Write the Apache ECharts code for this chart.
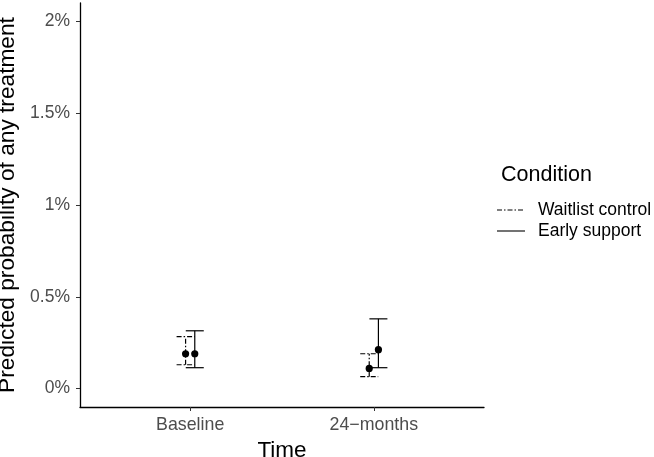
<!DOCTYPE html>
<html><head><meta charset="utf-8">
<script src="https://cdn.jsdelivr.net/npm/echarts@6/dist/echarts.min.js"></script>
<style>html,body{margin:0;padding:0;background:#fff}#c{width:654px;height:457px}</style>
</head><body><div id="c"></div>
<script>
const categories = ['Baseline', '24\u2212months'];
const conditions = ['Waitlist control', 'Early support'];
const waitlistEst = [0.19, 0.11];
const waitlistLow = [0.13, 0.065];
const waitlistHigh = [0.283, 0.19];
const earlyEst = [0.19, 0.212];
const earlyLow = [0.114, 0.114];
const earlyHigh = [0.315, 0.38];
const yTicks = [0, 0.5, 1, 1.5, 2];
const yTickLabels = ['0%', '0.5%', '1%', '1.5%', '2%'];

const DODGE = 0.025;
const CAP = 18;
const DASH = [5, 2, 1.5, 2];
const FONT = 'Liberation Sans, Arial, sans-serif';

function buildData(est, low, high, off) {
  return categories.map((c, i) => [i + 1 + off, low[i], est[i], high[i]]);
}

function renderErr(dashed) {
  return function (params, api) {
    const x = api.value(0);
    const lo = api.coord([x, api.value(1)]);
    const mid = api.coord([x, api.value(2)]);
    const hi = api.coord([x, api.value(3)]);
    const style = { stroke: '#000', lineWidth: 1.2, lineDash: dashed ? DASH : null, fill: null };
    return {
      type: 'group',
      children: [
        { type: 'line', shape: { x1: lo[0], y1: lo[1], x2: hi[0], y2: hi[1] }, style: style },
        { type: 'line', shape: { x1: lo[0] - CAP / 2, y1: lo[1], x2: lo[0] + CAP / 2, y2: lo[1] }, style: style },
        { type: 'line', shape: { x1: hi[0] - CAP / 2, y1: hi[1], x2: hi[0] + CAP / 2, y2: hi[1] }, style: style },
        { type: 'circle', shape: { cx: mid[0], cy: mid[1], r: 3.6 }, style: { fill: '#000' } }
      ]
    };
  };
}

const chart = echarts.init(document.getElementById('c'), null, { renderer: 'canvas' });
chart.setOption({
  animation: false,
  backgroundColor: '#fff',
  grid: { left: 80, right: 170, top: 3, bottom: 50, containLabel: false, outerBoundsMode: 'none' },
  xAxis: {
    type: 'value', min: 0.4, max: 2.6,
    name: 'Time', nameLocation: 'middle', nameGap: 30,
    nameTextStyle: { fontFamily: FONT, fontSize: 22.5, color: '#000' },
    axisLine: { show: true, onZero: false, lineStyle: { color: '#000', width: 1.3 } },
    axisTick: { show: true, customValues: [1, 2], length: 4, lineStyle: { color: '#333' } },
    axisLabel: {
      customValues: [1, 2], margin: 9,
      formatter: v => categories[Math.round(v) - 1] || '',
      fontFamily: FONT, fontSize: 17.8, color: '#4d4d4d'
    },
    splitLine: { show: false }
  },
  yAxis: {
    type: 'value', min: -0.1, max: 2.1,
    name: 'Predicted probability of any treatment', nameLocation: 'middle', nameGap: 60,
    nameTextStyle: { fontFamily: FONT, fontSize: 22.7, color: '#000' },
    axisLine: { show: true, onZero: false, lineStyle: { color: '#000', width: 1.3 } },
    axisTick: { show: true, customValues: yTicks, length: 4, lineStyle: { color: '#333' } },
    axisLabel: {
      customValues: yTicks, margin: 10,
      formatter: v => { const i = yTicks.indexOf(v); return i >= 0 ? yTickLabels[i] : ''; },
      fontFamily: FONT, fontSize: 17.5, color: '#4d4d4d'
    },
    splitLine: { show: false }
  },
  series: [
    { name: conditions[0], type: 'custom', renderItem: renderErr(true), data: buildData(waitlistEst, waitlistLow, waitlistHigh, -DODGE), encode: { x: 0, y: [1, 2, 3] } },
    { name: conditions[1], type: 'custom', renderItem: renderErr(false), data: buildData(earlyEst, earlyLow, earlyHigh, DODGE), encode: { x: 0, y: [1, 2, 3] } }
  ],
  graphic: [
    { type: 'text', x: 501, y: 175, style: { text: 'Condition', fontFamily: FONT, fontSize: 21.5, fill: '#000', verticalAlign: 'middle' } },
    { type: 'line', shape: { x1: 497, y1: 210, x2: 525, y2: 210 }, style: { stroke: '#000', lineWidth: 1.1, lineDash: DASH } },
    { type: 'text', x: 538, y: 210, style: { text: conditions[0], fontFamily: FONT, fontSize: 17.5, fill: '#000', verticalAlign: 'middle' } },
    { type: 'line', shape: { x1: 497, y1: 231, x2: 525, y2: 231 }, style: { stroke: '#000', lineWidth: 1.1 } },
    { type: 'text', x: 538, y: 231, style: { text: conditions[1], fontFamily: FONT, fontSize: 17.5, fill: '#000', verticalAlign: 'middle' } }
  ]
});
</script></body></html>
